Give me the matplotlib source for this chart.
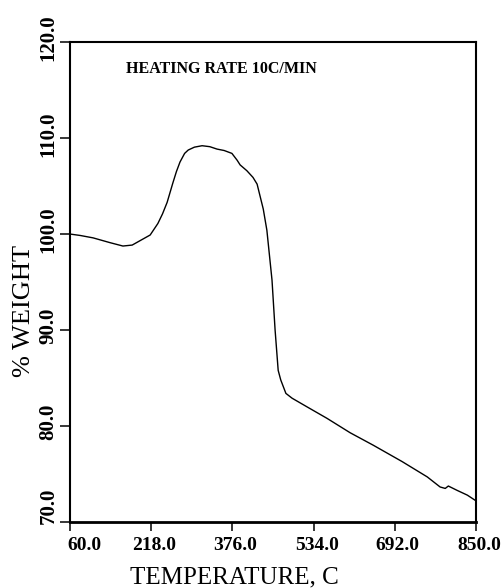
import matplotlib
matplotlib.use('Agg')
import matplotlib.pyplot as plt
from matplotlib.transforms import ScaledTranslation


# TGA trace, heating at 10C/min
temp = [60, 80, 105, 138, 163, 181, 196, 216, 231, 240, 249, 260, 267, 274,
        283, 290, 302, 317, 332, 346, 360, 375, 385, 391, 404, 416, 424, 430,
        436, 443, 453, 459, 465, 470, 480, 492, 521, 560, 605, 650, 706, 755,
        780, 790, 796, 813, 833, 850]
weight = [100.0, 99.85, 99.6, 99.1, 98.75, 98.85, 99.3, 99.9, 101.1, 102.1,
          103.3, 105.3, 106.5, 107.5, 108.4, 108.75, 109.05, 109.2, 109.1,
          108.85, 108.7, 108.4, 107.7, 107.2, 106.6, 105.9, 105.2, 103.9,
          102.6, 100.4, 95.2, 90.0, 85.8, 84.8, 83.4, 82.9, 82.0, 80.8, 79.3,
          78.0, 76.3, 74.7, 73.65, 73.5, 73.75, 73.3, 72.8, 72.2]

xticks = [60.0, 218.0, 376.0, 534.0, 692.0, 850.0]
yticks = [70.0, 80.0, 90.0, 100.0, 110.0, 120.0]

serif = 'Liberation Serif'

fig = plt.figure(figsize=(5.02, 5.88), dpi=100)
ax = fig.add_axes([0.1394, 0.1122, 0.809, 0.8163])

ax.plot(temp, weight, color='black', linewidth=1.0)

ax.set_xlim(60, 850)
ax.set_ylim(70, 120)
ax.set_xticks(xticks)
ax.set_yticks(yticks)
ax.set_xticklabels(['%.1f' % t for t in xticks], fontfamily=serif,
                   fontweight='bold', fontsize=14)
ax.set_yticklabels(['%.1f' % t for t in yticks], fontfamily=serif,
                   fontweight='bold', fontsize=15, rotation=90, va='center')

ax.tick_params(axis='x', direction='out', length=6.5, width=1.1, pad=4)
ax.tick_params(axis='y', direction='out', length=7.2, width=1.1, pad=1)

for s in ['left', 'top', 'right']:
    ax.spines[s].set_linewidth(1.5)
ax.spines['bottom'].set_linewidth(2.0)

# nudge the tick labels away from the corner
for i, lab in enumerate(ax.get_xticklabels()):
    dx = 14 if i == 0 else 3
    lab.set_transform(lab.get_transform() + ScaledTranslation(dx / 100, 0, fig.dpi_scale_trans))
for i, lab in enumerate(ax.get_yticklabels()):
    dy = 16 if i == 0 else 4
    lab.set_transform(lab.get_transform() + ScaledTranslation(0, dy / 100, fig.dpi_scale_trans))

ax.set_xlabel('TEMPERATURE, C', fontfamily=serif, fontsize=18)
ax.xaxis.set_label_coords(0.404, -0.115)
ax.xaxis.label.set_va('center')
ax.set_ylabel('% WEIGHT', fontfamily=serif, fontsize=19)
ax.yaxis.set_label_coords(-0.113, 0.44)
ax.yaxis.label.set_va('center')

ax.text(0.372, 0.944, 'HEATING RATE 10C/MIN', transform=ax.transAxes,
        fontfamily=serif, fontweight='bold', fontsize=11.5,
        ha='center', va='center')

fig.savefig('out.png', dpi=100)
